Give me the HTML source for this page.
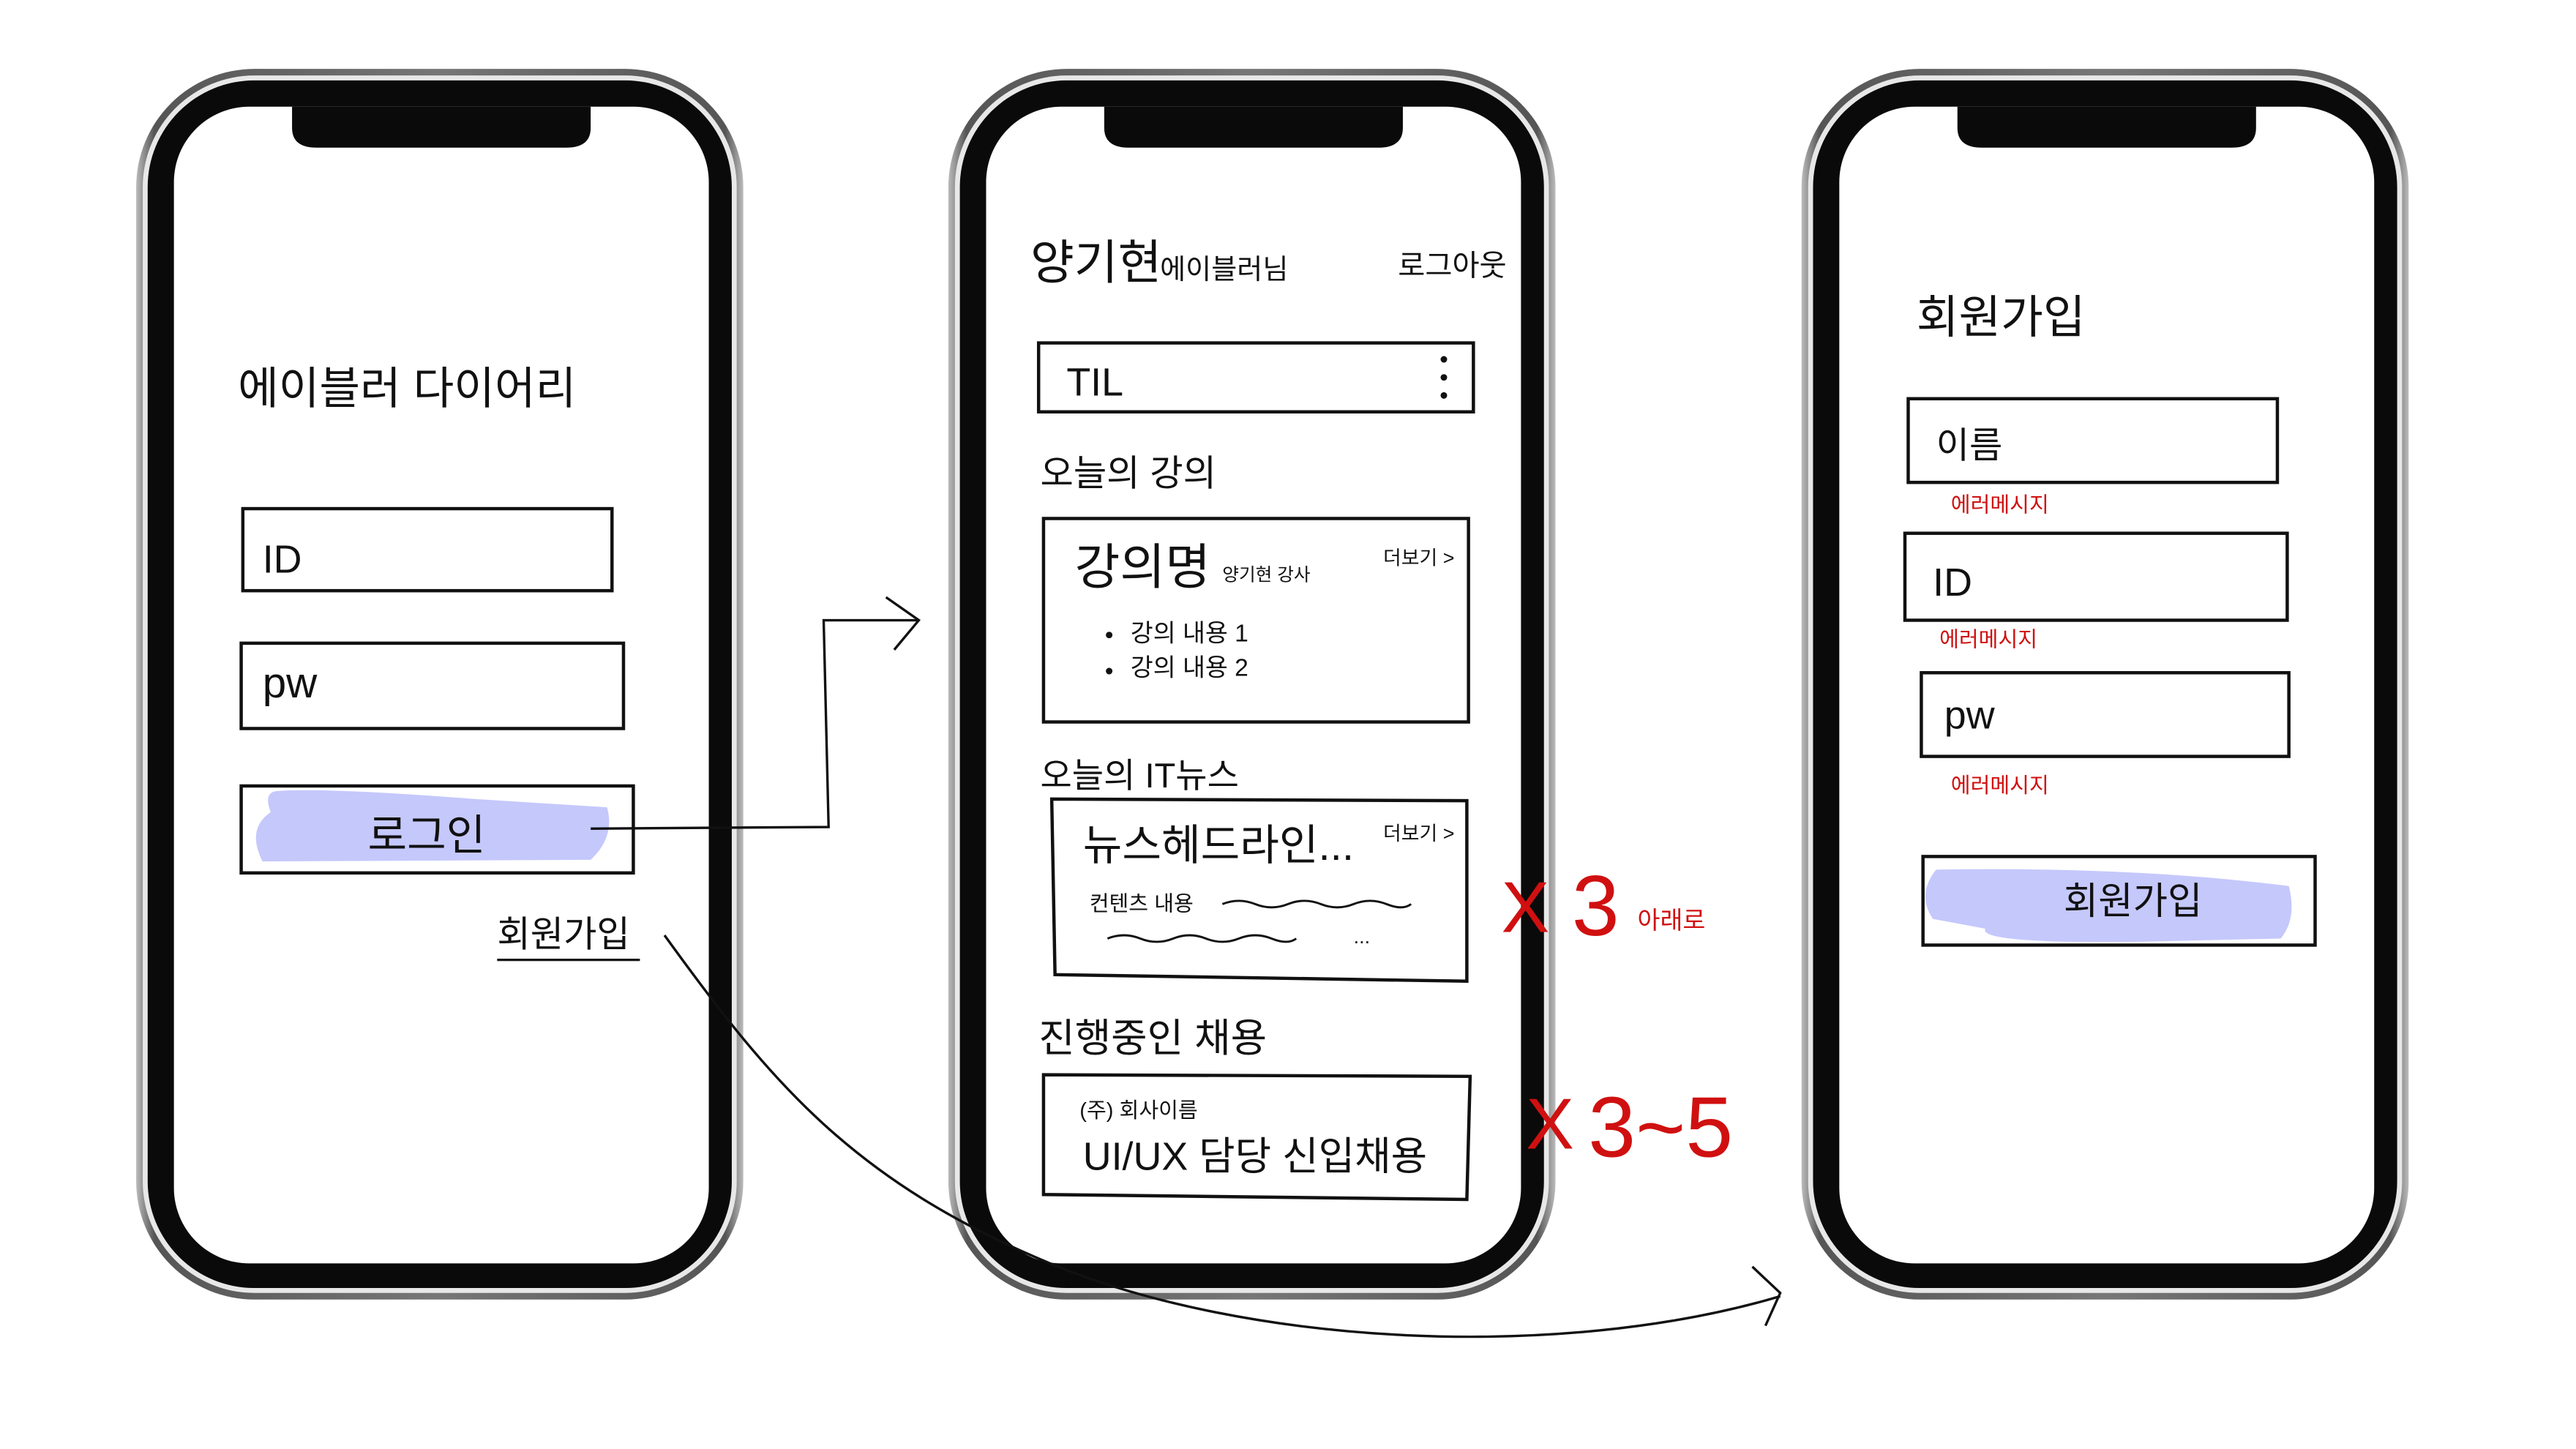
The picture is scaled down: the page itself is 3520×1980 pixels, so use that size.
<!DOCTYPE html>
<html><head><meta charset="utf-8"><style>
html,body{margin:0;padding:0;background:#fff;}
svg{display:block;}
text{font-family:"Liberation Sans","Noto Sans CJK KR",sans-serif;fill:#111;}
.r{fill:#d01010;}
</style></head><body>
<svg width="3520" height="1980" viewBox="0 0 1570 883.1" preserveAspectRatio="none" xmlns="http://www.w3.org/2000/svg">
<defs>
<linearGradient id="g" x1="0" x2="1" y1="0" y2="0">
<stop offset="0" stop-color="#bbb"/><stop offset="0.03" stop-color="#555"/><stop offset="0.5" stop-color="#777"/><stop offset="0.97" stop-color="#555"/><stop offset="1" stop-color="#bbb"/>
</linearGradient>
<g id="phone">
<rect x="0" y="0" width="370" height="750" rx="72" fill="url(#g)"/>
<rect x="4" y="4" width="362" height="742" rx="68" fill="#e8e8e8"/>
<rect x="7" y="7" width="356" height="736" rx="65" fill="#0a0a0a"/>
<rect x="23" y="23" width="326" height="705" rx="46" fill="#fff"/>
<path d="M95 23 H277 V36 Q277 48 262 48 H110 Q95 48 95 36 Z" fill="#0a0a0a"/>
</g>
</defs>
<use href="#phone" x="83" y="42"/>
<use href="#phone" x="578" y="42"/>
<use href="#phone" x="1098" y="42"/>

<g fill="none" stroke="#111" stroke-width="2">
<rect x="148" y="310" width="225" height="50"/>
<rect x="147" y="392" width="233" height="52"/>
</g>
<path d="M170 482 Q160 482 165 495 Q150 505 160 525 L360 524 Q375 510 370 492 L290 487 Q200 480 170 482Z" fill="#c5c8fb"/>
<rect x="147" y="479" width="239" height="53" fill="none" stroke="#111" stroke-width="2"/>
<text x="145" y="246" font-size="27">에이블러 다이어리</text>
<text x="160" y="349" font-size="24">ID</text>
<text x="160" y="425" font-size="26">pw</text>
<text x="260" y="518" font-size="26" text-anchor="middle">로그인</text>
<text x="303" y="577" font-size="22">회원가입</text>
<line x1="303" y1="585" x2="390" y2="585" stroke="#111" stroke-width="1.5"/>

<g fill="none" stroke="#111" stroke-width="1.5">
<path d="M360 505 L505 504 L502 378 L560 378"/>
<path d="M540 364 L560 378 L545 396"/>
<path d="M405 570 C470 660 520 720 640 770 C760 820 950 830 1085 790"/>
<path d="M1068 772 L1085 788 L1076 808"/>
</g>

<text x="628" y="170" font-size="29">양기현</text>
<text x="707" y="170" font-size="17">에이블러님</text>
<text x="852" y="168" font-size="18">로그아웃</text>
<rect x="633" y="209" width="265" height="42" fill="none" stroke="#111" stroke-width="2"/>
<text x="650" y="241" font-size="24">TIL</text>
<circle cx="880" cy="219" r="2" fill="#111"/><circle cx="880" cy="230" r="2" fill="#111"/><circle cx="880" cy="241" r="2" fill="#111"/>
<text x="634" y="296" font-size="22">오늘의 강의</text>
<rect x="636" y="316" width="259" height="124" fill="none" stroke="#111" stroke-width="2"/>
<text x="655" y="356" font-size="30">강의명</text>
<text x="745" y="354" font-size="11">양기현 강사</text>
<text x="843" y="344" font-size="12">더보기 &gt;</text>
<circle cx="676" cy="387" r="2" fill="#111"/><circle cx="676" cy="409" r="2" fill="#111"/>
<text x="689" y="391" font-size="15">강의 내용 1</text>
<text x="689" y="412" font-size="15">강의 내용 2</text>
<text x="634" y="480" font-size="21">오늘의 IT뉴스</text>
<path d="M641 487 L894 488 L894 598 L643 594 Z" fill="none" stroke="#111" stroke-width="2"/>
<text x="660" y="524" font-size="26">뉴스헤드라인...</text>
<text x="843" y="512" font-size="12">더보기 &gt;</text>
<text x="664" y="555" font-size="13">컨텐츠 내용</text>
<g fill="none" stroke="#111" stroke-width="1.3">
<path d="M745 551 q10 -4 20 0 t20 0 t20 0 t20 0 t20 0 t15 0"/>
<path d="M675 572 q10 -4 20 0 t20 0 t20 0 t20 0 t20 0 t15 0"/>
</g>
<text x="825" y="575" font-size="12">...</text>
<text x="915" y="568" font-size="44" class="r">X</text>
<text x="958" y="570" font-size="52" class="r">3</text>
<text x="998" y="566" font-size="15" class="r">아래로</text>
<text x="633" y="641" font-size="24">진행중인 채용</text>
<path d="M636 655 L896 656 L894 731 L636 728 Z" fill="none" stroke="#111" stroke-width="2"/>
<text x="658" y="681" font-size="13">(주) 회사이름</text>
<text x="660" y="713" font-size="24">UI/UX 담당 신입채용</text>
<text x="930" y="700" font-size="44" class="r">X</text>
<text x="968" y="705" font-size="52" class="r">3~5</text>

<text x="1168" y="203" font-size="28">회원가입</text>
<g fill="none" stroke="#111" stroke-width="2">
<rect x="1163" y="243" width="225" height="51"/>
<rect x="1161" y="325" width="233" height="53"/>
<rect x="1171" y="410" width="224" height="51"/>
</g>
<text x="1180" y="279" font-size="22">이름</text>
<text x="1178" y="363" font-size="24">ID</text>
<text x="1185" y="444" font-size="24">pw</text>
<text x="1189" y="312" font-size="13" class="r">에러메시지</text>
<text x="1182" y="394" font-size="13" class="r">에러메시지</text>
<text x="1189" y="483" font-size="13" class="r">에러메시지</text>
<path d="M1180 530 Q1168 545 1178 560 L1210 566 Q1205 575 1300 574 L1390 572 Q1400 560 1395 540 Q1300 528 1180 530Z" fill="#c5c8fb"/>
<rect x="1172" y="522" width="239" height="54" fill="none" stroke="#111" stroke-width="2"/>
<text x="1300" y="557" font-size="23" text-anchor="middle">회원가입</text>
</svg>
</body></html>
